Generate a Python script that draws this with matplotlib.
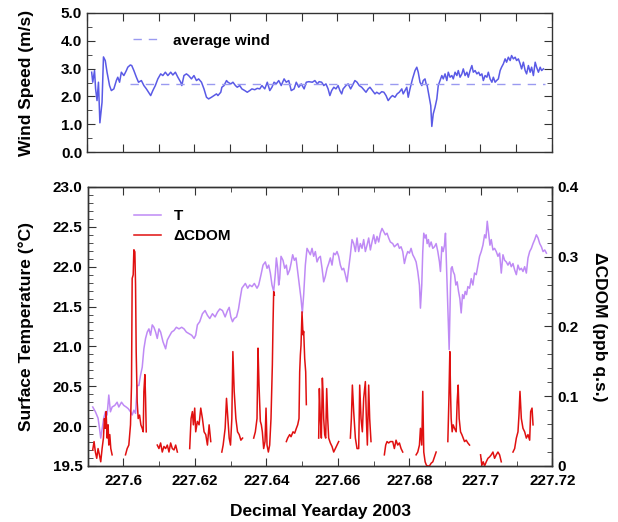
import numpy as np
import matplotlib
matplotlib.use("Agg")
import matplotlib.pyplot as plt
from matplotlib.ticker import MultipleLocator, FormatStrFormatter, FuncFormatter

plt.rcParams.update({
    "font.family": ["Liberation Sans", "DejaVu Sans"],
    "font.weight": "bold",
    "axes.labelweight": "bold",
    "font.size": 11,
})

# ---------------- data ----------------
wind_t = [227.5913, 227.5916, 227.5921, 227.5924, 227.5928, 227.5932, 227.5936, 227.5942,
          227.5946, 227.5951, 227.5956, 227.5963, 227.5968, 227.5975, 227.5982, 227.5986,
          227.5991, 227.5996, 227.6003, 227.6010, 227.6014, 227.6021, 227.6025, 227.6031,
          227.6038, 227.6044, 227.6052, 227.6059, 227.6066, 227.6072, 227.6078, 227.6084,
          227.6091, 227.6098, 227.6106, 227.6112, 227.6119, 227.6126, 227.6134, 227.6140,
          227.6147, 227.6154, 227.6162, 227.6165, 227.6171, 227.6178, 227.6184, 227.6192,
          227.6199, 227.6206, 227.6212, 227.6220, 227.6227, 227.6234, 227.6240, 227.6248,
          227.6255, 227.6262, 227.6266, 227.6274, 227.6277, 227.6283, 227.6290, 227.6294,
          227.6302, 227.6308, 227.6315, 227.6320, 227.6327, 227.6333, 227.6341, 227.6348,
          227.6355, 227.6361, 227.6369, 227.6376, 227.6383, 227.6389, 227.6397, 227.6404,
          227.6411, 227.6417, 227.6423, 227.6429, 227.6436, 227.6443, 227.6451, 227.6457,
          227.6464, 227.6471, 227.6479, 227.6485, 227.6492, 227.6499, 227.6507, 227.6513,
          227.6520,
          227.6530, 227.6537, 227.6544, 227.6549, 227.6556, 227.6562, 227.6568, 227.6574,
          227.6579, 227.6584, 227.6590, 227.6596, 227.6602, 227.6607, 227.6612, 227.6616,
          227.6624, 227.6630, 227.6637, 227.6642, 227.6649, 227.6655, 227.6661, 227.6668,
          227.6672, 227.6680, 227.6686, 227.6691, 227.6698, 227.6705, 227.6710, 227.6717,
          227.6724, 227.6730, 227.6736, 227.6742, 227.6749, 227.6754, 227.6761, 227.6767,
          227.6773, 227.6780, 227.6784, 227.6789, 227.6794, 227.6798, 227.6803, 227.6810,
          227.6817, 227.6822, 227.6826, 227.6831, 227.6836, 227.6840, 227.6845, 227.6848,
          227.6851, 227.6857, 227.6861, 227.6864, 227.6868, 227.6873, 227.6878, 227.6882,
          227.6887, 227.6892, 227.6896, 227.6901, 227.6906, 227.6910, 227.6915, 227.6920,
          227.6924, 227.6929, 227.6934, 227.6938, 227.6943, 227.6948, 227.6952, 227.6957,
          227.6962, 227.6966, 227.6971, 227.6976, 227.6980, 227.6985, 227.6990, 227.6995,
          227.6999, 227.7004, 227.7008, 227.7013, 227.7018, 227.7022, 227.7027, 227.7032,
          227.7036, 227.7041, 227.7045, 227.7050, 227.7055, 227.7059, 227.7064, 227.7069,
          227.7073, 227.7078, 227.7083, 227.7087, 227.7092, 227.7097, 227.7101, 227.7106,
          227.7111, 227.7115, 227.7120, 227.7125, 227.7129, 227.7134, 227.7139, 227.7143,
          227.7148, 227.7153, 227.7157, 227.7162, 227.7167, 227.7171, 227.7176]
wind_v = [2.87, 2.51, 2.93, 2.27, 1.85, 2.51, 1.05, 1.79,
          3.42, 3.29, 2.87, 2.39, 2.21, 2.27, 2.57, 2.69,
          2.51, 2.87, 2.75, 2.93, 3.05, 3.13, 3.11, 2.93,
          2.69, 2.51, 2.57, 2.39, 2.27, 2.15, 2.03, 2.21,
          2.39, 2.63, 2.81, 2.75, 2.87, 2.75, 2.87, 2.77,
          2.87, 2.69, 2.51, 2.39, 2.75, 2.81, 2.75, 2.63,
          2.75, 2.57, 2.63, 2.51, 2.27, 1.97, 1.91, 1.97,
          2.03, 2.09, 2.03, 2.15, 2.33, 2.39, 2.57, 2.51,
          2.45, 2.51, 2.39, 2.33, 2.39, 2.27, 2.21, 2.15,
          2.21, 2.27, 2.24, 2.29, 2.27, 2.39, 2.27, 2.51,
          2.21, 2.33, 2.51, 2.45, 2.57, 2.39, 2.63, 2.51,
          2.57, 2.21, 2.27, 2.51, 2.33, 2.45, 2.27, 2.51,
          2.53,
          2.51, 2.57, 2.45, 2.53, 2.51, 2.39, 2.45, 2.27,
          2.03, 2.21, 2.33, 2.27, 2.39, 2.21, 2.09, 2.27,
          2.39, 2.45, 2.27, 2.39, 2.57, 2.51, 2.39, 2.33,
          2.27, 2.15, 2.27, 2.33, 2.21, 2.09, 2.15, 2.09,
          2.17, 2.15, 2.03, 1.85, 1.97, 2.03, 1.97, 2.09,
          2.15, 2.27, 2.09, 2.21, 2.33, 1.97, 2.27, 2.63,
          2.93, 3.05, 2.87, 2.51, 2.39, 2.57, 2.63, 2.45,
          2.39, 1.97, 1.67, 0.92, 1.37, 1.61, 1.91, 2.39,
          2.57, 2.75, 2.63, 2.81, 2.57, 2.87, 2.69, 2.75,
          2.63, 2.87, 2.75, 2.93, 2.69, 2.81, 2.99, 2.75,
          2.87, 2.69, 2.93, 3.11, 2.87, 2.93, 2.81, 2.87,
          2.75, 2.81, 2.57, 2.75, 2.69, 2.87, 2.63, 2.51,
          2.69, 2.51, 2.57, 2.63, 2.93, 3.05, 3.17, 3.35,
          3.23, 3.41, 3.29, 3.47, 3.35, 3.41, 3.29, 3.35,
          3.17, 2.99, 3.23, 2.93, 2.81, 3.11, 2.87, 3.05,
          2.75, 3.23, 3.05, 2.87, 3.05, 2.93, 2.99]
avg_wind = 2.45
avg_span = [227.6020, 227.7180]

temp_t = [227.59146, 227.59221, 227.59295, 227.59333, 227.59370, 227.59408, 227.59454, 227.59501,
          227.59548, 227.59595, 227.59641, 227.59688, 227.59763, 227.59828, 227.59875, 227.59950,
          227.60015, 227.60081, 227.60137, 227.60202, 227.60249, 227.60296, 227.60343, 227.60389,
          227.60436, 227.60483, 227.60530, 227.60576, 227.60623, 227.60670, 227.60717, 227.60763,
          227.60810, 227.60857, 227.60904, 227.60950, 227.60997, 227.61044, 227.61109, 227.61184,
          227.61231, 227.61278, 227.61353, 227.61418, 227.61484, 227.61558, 227.61633, 227.61698,
          227.61764, 227.61839, 227.61913, 227.61979, 227.62025, 227.62072, 227.62137, 227.62213,
          227.62287, 227.62353, 227.62418, 227.62493, 227.62568, 227.62633, 227.62699, 227.62774,
          227.62848, 227.62914, 227.62961, 227.63007, 227.63054, 227.63101, 227.63166, 227.63222,
          227.63260, 227.63316, 227.63381,
          227.63413, 227.63478, 227.63534, 227.63599, 227.63664, 227.63739, 227.63786, 227.63851,
          227.63907, 227.63972, 227.64019, 227.64065, 227.64112, 227.64158, 227.64205, 227.64252,
          227.64280, 227.64317, 227.64345, 227.64373, 227.64410, 227.64466, 227.64513, 227.64559,
          227.64596, 227.64652, 227.64690, 227.64736, 227.64783, 227.64829, 227.64876, 227.64923,
          227.64969, 227.65006, 227.65044, 227.65090, 227.65137, 227.65184, 227.65230, 227.65277,
          227.65323, 227.65370, 227.65417, 227.65463, 227.65510, 227.65557, 227.65603, 227.65650,
          227.65696, 227.65743, 227.65789, 227.65836, 227.65883, 227.65929, 227.65976, 227.66022,
          227.66069, 227.66116, 227.66162, 227.66209, 227.66255, 227.66302, 227.66349, 227.66395,
          227.66442, 227.66489, 227.66535, 227.66582, 227.66628, 227.66675, 227.66721, 227.66768,
          227.66815, 227.66861, 227.66908, 227.66954, 227.67001, 227.67048, 227.67094, 227.67141,
          227.67187, 227.67234, 227.67281, 227.67327, 227.67374, 227.67420, 227.67467,
          227.67533, 227.67579, 227.67626, 227.67673, 227.67720, 227.67766, 227.67813, 227.67860,
          227.67906, 227.67953, 227.68000, 227.68046, 227.68093, 227.68140, 227.68187, 227.68233,
          227.68280, 227.68308, 227.68345, 227.68373, 227.68401, 227.68439, 227.68467, 227.68495,
          227.68532, 227.68560, 227.68607, 227.68654, 227.68700, 227.68747, 227.68794, 227.68840,
          227.68868, 227.68906, 227.68943, 227.68980, 227.69008, 227.69036, 227.69055, 227.69074,
          227.69093, 227.69111, 227.69130, 227.69149, 227.69167, 227.69195, 227.69223, 227.69261,
          227.69298, 227.69335, 227.69373, 227.69410, 227.69447, 227.69485, 227.69522, 227.69559,
          227.69597, 227.69634, 227.69681, 227.69728, 227.69774, 227.69821, 227.69868, 227.69915,
          227.69961, 227.70008, 227.70055, 227.70102, 227.70139, 227.70176, 227.70214, 227.70251,
          227.70288, 227.70335, 227.70381, 227.70428, 227.70475, 227.70521, 227.70568, 227.70615,
          227.70662, 227.70708, 227.70755, 227.70802, 227.70848, 227.70895, 227.70942, 227.70989,
          227.71035, 227.71082, 227.71129, 227.71175, 227.71222, 227.71269, 227.71315, 227.71362,
          227.71409, 227.71456, 227.71503, 227.71549, 227.71596, 227.71643, 227.71690, 227.71736,
          227.71783, 227.71830]
temp_v = [20.24, 20.18, 20.10, 19.98, 19.85, 19.96, 20.10, 20.18,
          20.14, 20.39, 20.18, 20.24, 20.26, 20.30, 20.24, 20.30,
          20.26, 20.24, 20.22, 20.18, 20.14, 20.20, 20.16, 20.51,
          20.51, 20.64, 20.74, 20.97, 21.10, 21.18, 21.22, 21.14,
          21.27, 21.24, 21.18, 21.10, 21.22, 21.18, 21.06, 20.97,
          21.08, 21.12, 21.18, 21.20, 21.24, 21.22, 21.24, 21.22,
          21.18, 21.16, 21.14, 21.10, 21.14, 21.27, 21.31, 21.41,
          21.45, 21.39, 21.35, 21.41, 21.37, 21.43, 21.47, 21.45,
          21.37, 21.45, 21.49, 21.37, 21.31, 21.35, 21.37, 21.47,
          21.58, 21.73, 21.77,
          21.79, 21.73, 21.77, 21.75, 21.79, 21.73, 21.77, 21.90,
          22.02, 22.06, 21.98, 22.02, 21.92, 21.77, 21.69, 21.92,
          22.11, 21.98, 21.77, 21.85, 22.13, 22.08, 21.98, 22.02,
          21.90, 21.96, 22.04, 22.15, 22.08, 22.11, 21.94, 21.77,
          21.60, 21.42, 21.65, 22.02, 22.23, 22.19, 22.15, 22.23,
          22.13, 22.19, 22.06, 22.11, 22.13, 21.98, 21.81, 21.88,
          21.98, 22.04, 22.11, 22.02, 22.17, 22.15, 22.19, 22.13,
          22.02, 21.96, 21.98, 21.90, 21.81, 21.98, 22.15, 22.34,
          22.29, 22.19, 22.36, 22.19, 22.29, 22.23, 22.34, 22.19,
          22.27, 22.36, 22.21, 22.31, 22.40, 22.29, 22.38, 22.31,
          22.42, 22.48, 22.44, 22.40, 22.42, 22.36, 22.31,
          22.29, 22.25, 22.27, 22.29, 22.23, 22.25, 22.19, 22.04,
          22.13, 22.19, 22.17, 22.23, 22.15, 22.11, 22.06, 21.94,
          21.77, 21.48, 21.77, 22.19, 22.42, 22.36, 22.40, 22.29,
          22.34, 22.25, 22.31, 22.23, 22.25, 22.29, 22.19, 22.06,
          21.94, 22.25, 22.19, 22.27, 22.42, 22.02, 21.77, 21.44,
          21.19, 20.96, 21.35, 21.77, 21.98, 22.00, 21.94, 21.90,
          21.77, 21.81, 21.69, 21.60, 21.42, 21.65, 21.60, 21.69,
          21.65, 21.75, 21.73, 21.85, 21.77, 21.92, 21.90, 22.02,
          22.13, 22.19, 22.27, 22.40, 22.36, 22.57, 22.42, 22.27,
          22.34, 22.21, 22.23, 22.19, 22.13, 22.17, 21.92, 22.15,
          22.08, 22.06, 22.02, 22.06, 22.00, 22.04, 21.96, 21.90,
          22.02, 21.96, 21.98, 21.94, 22.00, 21.92, 22.11, 22.19,
          22.23, 22.29, 22.34, 22.40, 22.36, 22.29, 22.25, 22.19,
          22.21, 22.17]

# CDOM record has gaps; nan marks a break between sampling bursts
nan = np.nan
cdom_t = [227.59146, 227.59183, 227.59220, 227.59258, 227.59295, 227.59333, 227.59370, 227.59408,
          227.59445, 227.59473, 227.59501, 227.59520, 227.59548, 227.59576, 227.59595, 227.59623,
          227.59651, 227.59688, 227.5985,
          227.60062, 227.60109, 227.60155, 227.60202, 227.60230, 227.60249, 227.60277, 227.60296,
          227.60324, 227.60343, 227.60361, 227.60389, 227.60417, 227.60455, 227.60492, 227.60530,
          227.60558, 227.60576, 227.60604, 227.60623, 227.60642, 227.6080,
          227.60950, 227.60997, 227.61044, 227.61090, 227.61137, 227.61184, 227.61231, 227.61278,
          227.61324, 227.61371, 227.61418, 227.61465, 227.61512, 227.6170,
          227.61857, 227.61895, 227.61932, 227.61960, 227.61997, 227.62025, 227.62072, 227.62119,
          227.62166, 227.62213, 227.62259, 227.62306, 227.62353, 227.62400, 227.62446, 227.6260,
          227.62755, 227.62792, 227.62848, 227.62886, 227.62923, 227.62961, 227.62998, 227.63035,
          227.63064, 227.63101, 227.63148, 227.63194, 227.63241, 227.63288, 227.63335, 227.6350,
          227.63646, 227.63692, 227.63739, 227.63767, 227.63795, 227.63832, 227.63860, 227.63888,
          227.63925, 227.63963, 227.63991, 227.64019, 227.64056, 227.64093, 227.64130, 227.64168,
          227.64186, 227.64205, 227.64224, 227.6440,
          227.64559, 227.64596, 227.64652, 227.64690, 227.64746, 227.64792, 227.64839, 227.64876,
          227.64913, 227.64932, 227.64951, 227.64969, 227.64997, 227.65025, 227.65044, 227.65072,
          227.65100, 227.65118, 227.6530,
          227.65463, 227.65482, 227.65510, 227.65538, 227.65566, 227.65584, 227.65603, 227.65631,
          227.65659, 227.65687, 227.65715, 227.65743, 227.65789, 227.65836, 227.65883, 227.65929,
          227.65976, 227.66022, 227.6620,
          227.66349, 227.66377, 227.66405, 227.66442, 227.66489, 227.66535, 227.66582, 227.66610,
          227.66647, 227.66684, 227.66721, 227.66768, 227.66796, 227.66824, 227.66861, 227.66889,
          227.66926, 227.6710,
          227.67299, 227.67337, 227.67374, 227.67420, 227.67467, 227.67533, 227.67579, 227.67626,
          227.67673, 227.67720, 227.67766, 227.67813, 227.6800,
          227.68187, 227.68233, 227.68280, 227.68308, 227.68345, 227.68373, 227.68401, 227.68439,
          227.68476, 227.68513, 227.68560, 227.68607, 227.68654, 227.68700, 227.68747, 227.6890,
          227.69074, 227.69102, 227.69130, 227.69149, 227.69167, 227.69195, 227.69223, 227.69261,
          227.69307, 227.69335, 227.69363, 227.69391, 227.69429, 227.69466, 227.69503, 227.69541,
          227.69587, 227.69634, 227.69681, 227.6985,
          227.69989, 227.70026, 227.70064, 227.70101, 227.70148, 227.70195, 227.70241, 227.70288,
          227.70335, 227.70381, 227.70428, 227.70475, 227.70521, 227.70568, 227.7075,
          227.70895, 227.70942, 227.70989, 227.71035, 227.71063, 227.71091, 227.71129, 227.71175,
          227.71222, 227.71269, 227.71315, 227.71362, 227.71390, 227.71428, 227.71456]
cdom_v = [0.023, 0.035, 0.020, 0.011, 0.025, 0.016, 0.006, 0.025,
          0.040, 0.068, 0.054, 0.078, 0.040, 0.059, 0.030, 0.045,
          0.025, 0.016, nan,
          0.016, 0.025, 0.030, 0.059, 0.116, 0.269, 0.274, 0.310,
          0.307, 0.260, 0.164, 0.092, 0.068, 0.073, 0.059, 0.054,
          0.049, 0.107, 0.131, 0.097, 0.049, nan,
          0.030, 0.025, 0.033, 0.020, 0.028, 0.025, 0.030, 0.020,
          0.033, 0.025, 0.023, 0.030, 0.020, nan,
          0.025, 0.068, 0.078, 0.059, 0.083, 0.049, 0.064, 0.059,
          0.083, 0.068, 0.049, 0.045, 0.030, 0.059, 0.035, nan,
          0.020, 0.030, 0.054, 0.097, 0.068, 0.040, 0.030, 0.068,
          0.164, 0.107, 0.068, 0.049, 0.045, 0.037, 0.040, nan,
          0.040, 0.049, 0.068, 0.169, 0.116, 0.064, 0.059, 0.049,
          0.025, 0.035, 0.083, 0.030, 0.020, 0.030, 0.068, 0.145,
          0.202, 0.250, 0.245, nan,
          0.035, 0.040, 0.045, 0.042, 0.049, 0.047, 0.054, 0.059,
          0.068, 0.135, 0.159, 0.173, 0.221, 0.188, 0.193, 0.154,
          0.135, 0.088, nan,
          0.040, 0.111, 0.068, 0.040, 0.126, 0.107, 0.068, 0.045,
          0.040, 0.111, 0.068, 0.040, 0.033, 0.028, 0.020, 0.025,
          0.030, 0.035, nan,
          0.040, 0.068, 0.116, 0.078, 0.040, 0.025, 0.025, 0.116,
          0.068, 0.049, 0.097, 0.121, 0.068, 0.030, 0.116, 0.068,
          0.035, nan,
          0.016, 0.030, 0.035, 0.033, 0.035, 0.035, 0.025, 0.037,
          0.030, 0.033, 0.025, 0.020, nan,
          0.016, 0.020, 0.030, 0.054, 0.030, 0.107, 0.020, 0.006,
          0.001, 0.000, 0.000, 0.004, 0.006, 0.013, 0.020, nan,
          0.035, 0.092, 0.164, 0.107, 0.068, 0.049, 0.059, 0.054,
          0.049, 0.092, 0.116, 0.068, 0.049, 0.045, 0.040, 0.035,
          0.037, 0.033, 0.030, nan,
          0.016, 0.001, 0.006, 0.000, 0.006, 0.011, 0.013, 0.016,
          0.020, 0.011, 0.016, 0.020, 0.016, 0.006, nan,
          0.020, 0.025, 0.040, 0.049, 0.073, 0.107, 0.068, 0.054,
          0.049, 0.040, 0.045, 0.037, 0.078, 0.083, 0.059]

# ---------------- figure ----------------
fig = plt.figure(figsize=(6.18, 5.22), dpi=100)
ax_w = fig.add_axes([0.1408, 0.7088, 0.7524, 0.2663])
ax_t = fig.add_axes([0.1416, 0.1073, 0.7524, 0.5345])
ax_c = ax_t.twinx()

wind_col = "#5a5ae6"
temp_col = "#bf8af5"
cdom_col = "#e01010"
spine_col = "#333333"

# wind panel
ax_w.plot(wind_t, wind_v, color=wind_col, lw=1.1)
ax_w.plot(avg_span, [avg_wind, avg_wind], color="#9a9af0", lw=1.0,
          dashes=(6, 5), label="average wind")
ax_w.set_xlim(227.59, 227.72)
ax_w.set_ylim(0, 5)
ax_w.yaxis.set_major_locator(MultipleLocator(1.0))
ax_w.yaxis.set_minor_locator(MultipleLocator(0.5))
ax_w.yaxis.set_major_formatter(FormatStrFormatter("%.1f"))
ax_w.xaxis.set_major_locator(MultipleLocator(0.01))
ax_w.tick_params(axis="x", labelbottom=False)
ax_w.set_ylabel("Wind Speed (m/s)", fontsize=12.5)
ax_w.yaxis.set_label_coords(-0.115, 0.5)
ax_w.legend(loc="upper left", bbox_to_anchor=(0.07, 0.95), frameon=False,
            handlelength=1.8, handletextpad=0.8, fontsize=11)

# temperature / CDOM panel
ax_t.plot(temp_t, temp_v, color=temp_col, lw=1.1, label="T")
ax_c.plot(cdom_t, cdom_v, color=cdom_col, lw=1.1, label="\u0394CDOM")
ax_t.set_xlim(227.59, 227.72)
ax_t.set_ylim(19.5, 23.0)
ax_c.set_ylim(0, 0.4)
ax_t.xaxis.set_major_locator(MultipleLocator(0.02))
ax_t.xaxis.set_minor_locator(MultipleLocator(0.01))
ax_t.xaxis.set_major_formatter(FuncFormatter(lambda v, p: f"{v:.2f}".rstrip("0")))
ax_t.yaxis.set_major_locator(MultipleLocator(0.5))
ax_t.yaxis.set_minor_locator(MultipleLocator(0.1))
ax_t.yaxis.set_major_formatter(FormatStrFormatter("%.1f"))
ax_c.yaxis.set_major_locator(MultipleLocator(0.1))
ax_c.yaxis.set_minor_locator(MultipleLocator(0.02))
ax_c.yaxis.set_major_formatter(FuncFormatter(lambda v, p: "0" if abs(v) < 1e-9 else f"{v:.1f}"))
ax_t.set_xlabel("Decimal Yearday 2003", fontsize=12.5)
ax_t.xaxis.set_label_coords(0.5, -0.135)
ax_t.set_ylabel("Surface Temperature (\u00b0C)", fontsize=12.5)
ax_t.yaxis.set_label_coords(-0.115, 0.5)
ax_c.set_ylabel("\u0394CDOM (ppb q.s.)", fontsize=12.5, rotation=270, va="bottom")
ax_c.yaxis.set_label_coords(1.085, 0.5)

h1, l1 = ax_t.get_legend_handles_labels()
h2, l2 = ax_c.get_legend_handles_labels()
ax_c.legend(h1 + h2, l1 + l2, loc="upper left", bbox_to_anchor=(0.07, 0.97),
            frameon=False, handlelength=1.8, handletextpad=0.8, fontsize=11,
            labelspacing=0.4)

for a in (ax_w, ax_t, ax_c):
    for s in a.spines.values():
        s.set_color(spine_col)
        s.set_linewidth(1.0)
for a in (ax_w, ax_t):
    a.tick_params(which="both", direction="in", top=True, labelsize=11, color=spine_col)
    a.tick_params(which="major", length=6)
    a.tick_params(which="minor", length=3.5)
ax_w.tick_params(which="both", right=True)
ax_c.tick_params(which="both", direction="in", labelsize=11, color=spine_col)
ax_c.tick_params(which="major", length=6)
ax_c.tick_params(which="minor", length=3.5)
ax_t.tick_params(axis="x", pad=6)

fig.savefig("out.png", dpi=100)
